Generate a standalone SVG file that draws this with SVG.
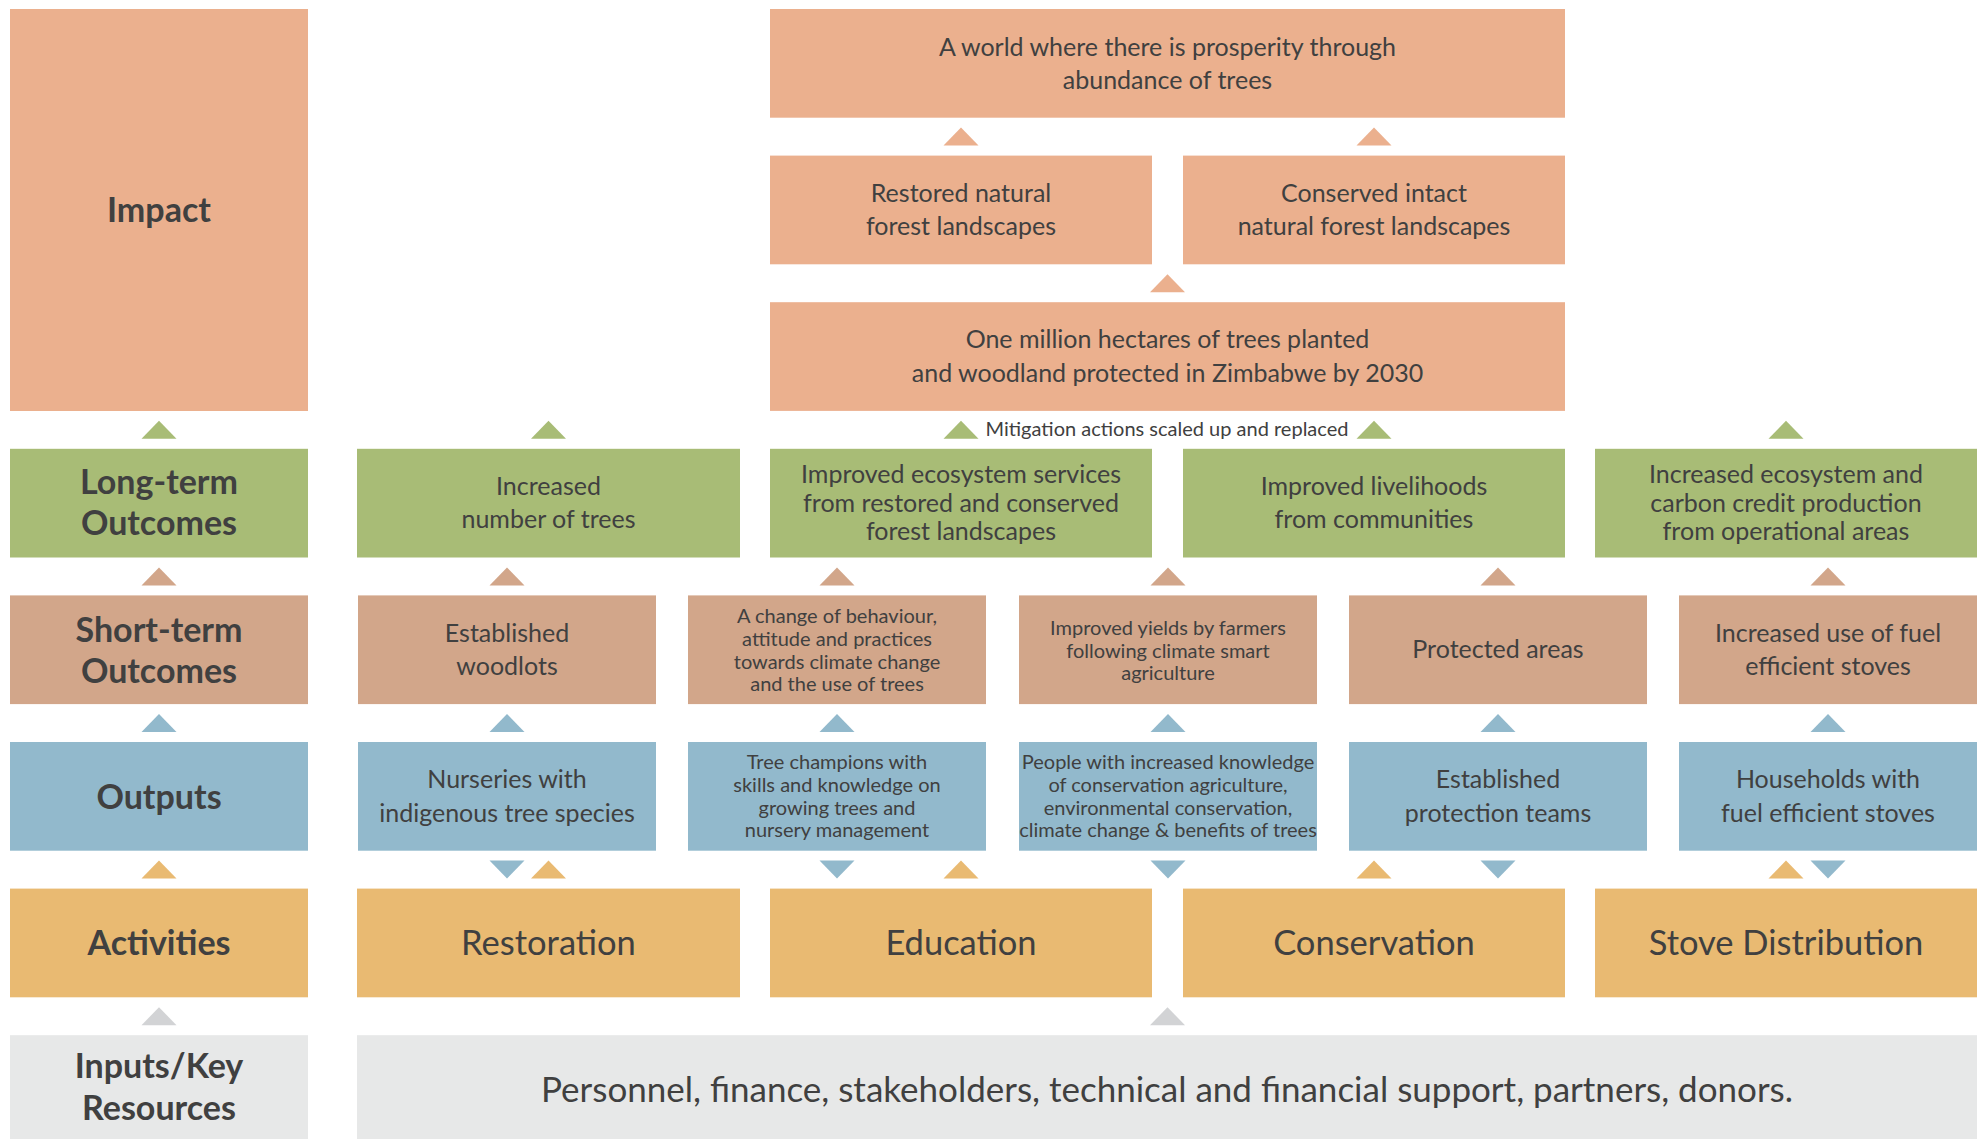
<svg xmlns="http://www.w3.org/2000/svg" xmlns:xlink="http://www.w3.org/1999/xlink" width="1980" height="1139" viewBox="0 0 1980 1139">
<style>
.imp{fill:#EBB08E}.grn{fill:#A8BC76}.tan{fill:#D2A68A}.blu{fill:#92B9CC}.gld{fill:#E9BA72}.gry{fill:#E7E8E8}.gtr{fill:#D2D3D5}
text{font-family:Lato,"Noto Sans","DejaVu Sans",sans-serif;fill:#404040;text-anchor:middle}
.lab{font-size:34px;font-weight:700}
.t25{font-size:25px}
.t20{font-size:20px}
.big{font-size:34.5px}
.inp{font-size:35px}
</style>
<defs>
<polygon id="up" points="-17.5,9 17.5,9 0,-9"/>
<polygon id="dn" points="-17.5,-9 17.5,-9 0,9"/>
</defs>
<rect width="1980" height="1139" fill="#fff"/>

<g id="label-impact"><rect class="imp" x="10" y="9" width="298" height="402"/><text class="lab" x="159" y="222">Impact</text></g>
<g id="label-longterm"><rect class="grn" x="10" y="448.8" width="298" height="108.7"/><text class="lab" x="159" y="494">Long-term<tspan x="159" y="535">Outcomes</tspan></text></g>
<g id="label-shortterm"><rect class="tan" x="10" y="595.4" width="298" height="108.7"/><text class="lab" x="159" y="641.5">Short-term<tspan x="159" y="682.5">Outcomes</tspan></text></g>
<g id="label-outputs"><rect class="blu" x="10" y="742" width="298" height="108.7"/><text class="lab" x="159" y="808.5">Outputs</text></g>
<g id="label-activities"><rect class="gld" x="10" y="888.6" width="298" height="108.7"/><text class="lab" x="159" y="955">Activities</text></g>
<g id="label-inputs"><rect class="gry" x="10" y="1035.2" width="298" height="110"/><text class="lab" x="159" y="1078">Inputs/Key<tspan x="159" y="1119.5">Resources</tspan></text></g>

<g id="impact-world"><rect class="imp" x="770" y="9" width="795" height="108.7"/><text class="t25" x="1167.5" y="56">A world where there is prosperity through<tspan x="1167.5" y="89.3">abundance of trees</tspan></text></g>
<g id="impact-restored"><rect class="imp" x="770" y="155.6" width="382" height="108.7"/><text class="t25" x="961" y="201.7">Restored natural<tspan x="961" y="235">forest landscapes</tspan></text></g>
<g id="impact-conserved"><rect class="imp" x="1183" y="155.6" width="382" height="108.7"/><text class="t25" x="1374" y="201.7">Conserved intact<tspan x="1374" y="235">natural forest landscapes</tspan></text></g>
<g id="impact-million"><rect class="imp" x="770" y="302.2" width="795" height="108.7"/><text class="t25" x="1167.5" y="348.3">One million hectares of trees planted<tspan x="1167.5" y="381.7">and woodland protected in Zimbabwe by 2030</tspan></text></g>

<g id="lt-trees"><rect class="grn" x="357" y="448.8" width="383" height="108.7"/><text class="t25" x="548.5" y="495">Increased<tspan x="548.5" y="528.3">number of trees</tspan></text></g>
<g id="lt-ecosystem"><rect class="grn" x="770" y="448.8" width="382" height="108.7"/><text class="t25" x="961" y="483.3">Improved ecosystem services<tspan x="961" y="511.7">from restored and conserved</tspan><tspan x="961" y="540">forest landscapes</tspan></text></g>
<g id="lt-livelihoods"><rect class="grn" x="1183" y="448.8" width="382" height="108.7"/><text class="t25" x="1374" y="495">Improved livelihoods<tspan x="1374" y="528.3">from communities</tspan></text></g>
<g id="lt-carbon"><rect class="grn" x="1595" y="448.8" width="382" height="108.7"/><text class="t25" x="1786" y="483.3">Increased ecosystem and<tspan x="1786" y="511.7">carbon credit production</tspan><tspan x="1786" y="540">from operational areas</tspan></text></g>

<g id="st-woodlots"><rect class="tan" x="358" y="595.4" width="298" height="108.7"/><text class="t25" x="507" y="641.7">Established<tspan x="507" y="675">woodlots</tspan></text></g>
<g id="st-behaviour"><rect class="tan" x="688" y="595.4" width="298" height="108.7"/><text class="t20" x="837" y="623.3">A change of behaviour,<tspan x="837" y="646">attitude and practices</tspan><tspan x="837" y="668.7">towards climate change</tspan><tspan x="837" y="691.3">and the use of trees</tspan></text></g>
<g id="st-yields"><rect class="tan" x="1019" y="595.4" width="298" height="108.7"/><text class="t20" x="1168" y="635">Improved yields by farmers<tspan x="1168" y="657.5">following climate smart</tspan><tspan x="1168" y="680">agriculture</tspan></text></g>
<g id="st-protected"><rect class="tan" x="1349" y="595.4" width="298" height="108.7"/><text class="t25" x="1498" y="658.3">Protected areas</text></g>
<g id="st-stoves"><rect class="tan" x="1679" y="595.4" width="298" height="108.7"/><text class="t25" x="1828" y="641.7">Increased use of fuel<tspan x="1828" y="675">efficient stoves</tspan></text></g>

<g id="out-nurseries"><rect class="blu" x="358" y="742" width="298" height="108.7"/><text class="t25" x="507" y="788.3">Nurseries with<tspan x="507" y="821.7">indigenous tree species</tspan></text></g>
<g id="out-champions"><rect class="blu" x="688" y="742" width="298" height="108.7"/><text class="t20" x="837" y="769.3">Tree champions with<tspan x="837" y="791.8">skills and knowledge on</tspan><tspan x="837" y="814.5">growing trees and</tspan><tspan x="837" y="837">nursery management</tspan></text></g>
<g id="out-people"><rect class="blu" x="1019" y="742" width="298" height="108.7"/><text class="t20" x="1168" y="769.3">People with increased knowledge<tspan x="1168" y="791.8">of conservation agriculture,</tspan><tspan x="1168" y="814.5">environmental conservation,</tspan><tspan x="1168" y="837">climate change &amp; benefits of trees</tspan></text></g>
<g id="out-teams"><rect class="blu" x="1349" y="742" width="298" height="108.7"/><text class="t25" x="1498" y="788.3">Established<tspan x="1498" y="821.7">protection teams</tspan></text></g>
<g id="out-households"><rect class="blu" x="1679" y="742" width="298" height="108.7"/><text class="t25" x="1828" y="788.3">Households with<tspan x="1828" y="821.7">fuel efficient stoves</tspan></text></g>

<g id="act-restoration"><rect class="gld" x="357" y="888.6" width="383" height="108.7"/><text class="big" x="548.5" y="955">Restoration</text></g>
<g id="act-education"><rect class="gld" x="770" y="888.6" width="382" height="108.7"/><text class="big" x="961" y="955">Education</text></g>
<g id="act-conservation"><rect class="gld" x="1183" y="888.6" width="382" height="108.7"/><text class="big" x="1374" y="955">Conservation</text></g>
<g id="act-stove"><rect class="gld" x="1595" y="888.6" width="382" height="108.7"/><text class="big" x="1786" y="955">Stove Distribution</text></g>

<g id="inputs"><rect class="gry" x="357" y="1035.2" width="1620" height="110"/><text class="inp" x="1167" y="1101.7">Personnel, finance, stakeholders, technical and financial support, partners, donors.</text></g>

<g id="connectors">
<use xlink:href="#up" class="imp" x="961" y="136.6"/>
<use xlink:href="#up" class="imp" x="1374" y="136.6"/>
<use xlink:href="#up" class="imp" x="1167.5" y="283.2"/>
<use xlink:href="#up" class="grn" x="159" y="429.8"/>
<use xlink:href="#up" class="grn" x="548.5" y="429.8"/>
<use xlink:href="#up" class="grn" x="961" y="429.8"/>
<use xlink:href="#up" class="grn" x="1374" y="429.8"/>
<use xlink:href="#up" class="grn" x="1786" y="429.8"/>
<text class="t20" x="1167" y="436">Mitigation actions scaled up and replaced</text>
<use xlink:href="#up" class="tan" x="159" y="576.4"/>
<use xlink:href="#up" class="tan" x="507" y="576.4"/>
<use xlink:href="#up" class="tan" x="837" y="576.4"/>
<use xlink:href="#up" class="tan" x="1168" y="576.4"/>
<use xlink:href="#up" class="tan" x="1498" y="576.4"/>
<use xlink:href="#up" class="tan" x="1828" y="576.4"/>
<use xlink:href="#up" class="blu" x="159" y="723"/>
<use xlink:href="#up" class="blu" x="507" y="723"/>
<use xlink:href="#up" class="blu" x="837" y="723"/>
<use xlink:href="#up" class="blu" x="1168" y="723"/>
<use xlink:href="#up" class="blu" x="1498" y="723"/>
<use xlink:href="#up" class="blu" x="1828" y="723"/>
<use xlink:href="#up" class="gld" x="159" y="869.6"/>
<use xlink:href="#dn" class="blu" x="507" y="869.6"/>
<use xlink:href="#up" class="gld" x="548.5" y="869.6"/>
<use xlink:href="#dn" class="blu" x="837" y="869.6"/>
<use xlink:href="#up" class="gld" x="961" y="869.6"/>
<use xlink:href="#dn" class="blu" x="1168" y="869.6"/>
<use xlink:href="#up" class="gld" x="1374" y="869.6"/>
<use xlink:href="#dn" class="blu" x="1498" y="869.6"/>
<use xlink:href="#up" class="gld" x="1786" y="869.6"/>
<use xlink:href="#dn" class="blu" x="1828" y="869.6"/>
<use xlink:href="#up" class="gtr" x="159" y="1016.2"/>
<use xlink:href="#up" class="gtr" x="1167.5" y="1016.2"/>
</g>
</svg>
